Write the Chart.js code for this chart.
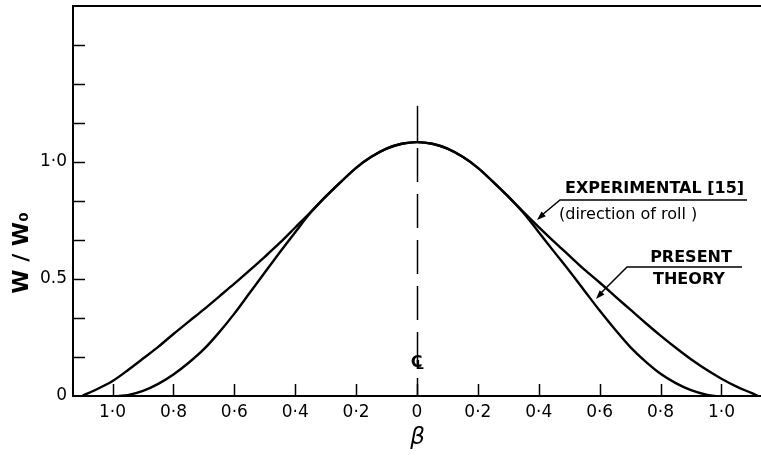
<!DOCTYPE html>
<html>
<head>
<meta charset="utf-8">
<script src="https://cdn.jsdelivr.net/npm/chart.js@4.4.1/dist/chart.umd.min.js"></script>
<style>
  html, body { margin: 0; padding: 0; background: #fff; }
  canvas { display: block; }
</style>
</head>
<body>
<canvas id="c" width="761" height="458"></canvas>
<script>
// ---- data ----
const betaExp = [-1.10, -1.05, -1.0, -0.95, -0.9, -0.85, -0.8, -0.75, -0.7, -0.65, -0.6, -0.55, -0.5, -0.45, -0.4, -0.35, -0.3, -0.25, -0.2, -0.15, -0.1, -0.05, 0,
                 0.05, 0.1, 0.15, 0.2, 0.25, 0.3, 0.35, 0.4, 0.45, 0.5, 0.55, 0.6, 0.65, 0.7, 0.75, 0.8, 0.85, 0.9, 0.95, 1.0, 1.05, 1.1, 1.12];
const wExp    = [0, 0.03, 0.064, 0.11, 0.16, 0.21, 0.265, 0.318, 0.37, 0.425, 0.48, 0.537, 0.595, 0.655, 0.72, 0.785, 0.852, 0.915, 0.975, 1.022, 1.057, 1.078, 1.085,
                 1.078, 1.057, 1.022, 0.975, 0.915, 0.852, 0.786, 0.722, 0.66, 0.60, 0.54, 0.485, 0.427, 0.37, 0.313, 0.258, 0.206, 0.157, 0.113, 0.074, 0.04, 0.012, 0];

const betaTheory = [-0.98, -0.95, -0.9, -0.85, -0.8, -0.75, -0.7, -0.65, -0.6, -0.55, -0.5, -0.45, -0.4, -0.35, -0.3, -0.25, -0.2, -0.15, -0.1, -0.05, 0,
                    0.05, 0.1, 0.15, 0.2, 0.25, 0.3, 0.35, 0.4, 0.45, 0.5, 0.55, 0.6, 0.65, 0.7, 0.75, 0.8, 0.85, 0.9, 0.95, 0.98];
const wTheory    = [0, 0.004, 0.022, 0.052, 0.092, 0.142, 0.2, 0.272, 0.352, 0.44, 0.528, 0.615, 0.70, 0.783, 0.852, 0.915, 0.975, 1.022, 1.057, 1.078, 1.085,
                    1.078, 1.057, 1.022, 0.975, 0.915, 0.852, 0.782, 0.70, 0.617, 0.535, 0.45, 0.365, 0.285, 0.21, 0.148, 0.095, 0.055, 0.025, 0.006, 0];

const xTickValues = [-1.0, -0.8, -0.6, -0.4, -0.2, 0, 0.2, 0.4, 0.6, 0.8, 1.0];
const xTickLabels = ['1·0', '0·8', '0·6', '0·4', '0·2', '0', '0·2', '0·4', '0·6', '0·8', '1·0'];
const yTickValues = [0, 1/6, 2/6, 3/6, 4/6, 5/6, 1, 7/6, 8/6, 9/6, 10/6];
const yTickLabels = ['0', '', '', '0.5', '', '', '1·0', '', '', '', ''];

const xMin = -1.13, xMax = 1.13, yMin = 0, yMax = 10/6;
const centerTop = 1.24;
const peakW = 1.085;

const toPts = (xs, ys) => xs.map((x, i) => ({ x: x, y: ys[i] }));

function arrow(ctx, x0, y0, x1, y1) {
  const ang = Math.atan2(y1 - y0, x1 - x0);
  const len = 9, w = 3.2;
  ctx.beginPath();
  ctx.moveTo(x1, y1);
  ctx.lineTo(x1 - len * Math.cos(ang) + w * Math.sin(ang), y1 - len * Math.sin(ang) - w * Math.cos(ang));
  ctx.lineTo(x1 - len * Math.cos(ang) - w * Math.sin(ang), y1 - len * Math.sin(ang) + w * Math.cos(ang));
  ctx.closePath();
  ctx.fill();
}

const overlay = {
  id: 'overlay',
  afterDraw(chart) {
    const ctx = chart.ctx;
    const xs = chart.scales.x, ys = chart.scales.y;
    const a = chart.chartArea;
    ctx.save();
    ctx.strokeStyle = '#000';
    ctx.fillStyle = '#000';
    ctx.lineCap = 'butt';

    // top frame line
    ctx.lineWidth = 2;
    ctx.beginPath();
    ctx.moveTo(a.left - 1, ys.getPixelForValue(yMax));
    ctx.lineTo(a.right, ys.getPixelForValue(yMax));
    ctx.stroke();

    // inward y ticks
    ctx.lineWidth = 1.5;
    yTickValues.forEach(v => {
      if (v === 0 || v === yMax) return;
      const py = Math.round(ys.getPixelForValue(v)) + 0.5;
      ctx.beginPath(); ctx.moveTo(a.left, py); ctx.lineTo(a.left + 12, py); ctx.stroke();
    });
    // inward x ticks
    xTickValues.forEach(v => {
      const px = Math.round(xs.getPixelForValue(v)) + 0.5;
      ctx.beginPath(); ctx.moveTo(px, a.bottom); ctx.lineTo(px, a.bottom - 12); ctx.stroke();
    });

    // centre line: solid above the peak, dashed below
    const cx = Math.round(xs.getPixelForValue(0)) + 0.5;
    const peakY = ys.getPixelForValue(peakW);
    ctx.lineWidth = 1.5;
    ctx.beginPath(); ctx.moveTo(cx, ys.getPixelForValue(centerTop)); ctx.lineTo(cx, peakY); ctx.stroke();
    ctx.setLineDash([34, 12]);
    ctx.beginPath(); ctx.moveTo(cx, peakY + 6); ctx.lineTo(cx, a.bottom); ctx.stroke();
    ctx.setLineDash([]);

    // centre-line symbol
    ctx.font = 'bold 16px "DejaVu Sans"';
    ctx.textAlign = 'center';
    ctx.textBaseline = 'middle';
    ctx.fillText('C', cx - 1, 363);
    ctx.font = 'bold 13px "DejaVu Sans"';
    ctx.textAlign = 'left';
    ctx.fillText('L', cx - 2, 366);

    // axis titles
    ctx.save();
    ctx.translate(22, 253);
    ctx.rotate(-Math.PI / 2);
    ctx.textAlign = 'center';
    ctx.textBaseline = 'middle';
    ctx.font = 'bold 22px "DejaVu Sans"';
    ctx.fillText('W / W\u2080', 0, 0);
    ctx.restore();

    ctx.textAlign = 'center';
    ctx.textBaseline = 'middle';
    ctx.font = 'oblique 23px "DejaVu Sans"';
    ctx.fillText('β', cx, 438);

    // annotation: experimental
    ctx.textAlign = 'left';
    ctx.textBaseline = 'middle';
    ctx.font = 'bold 16px "DejaVu Sans"';
    ctx.fillText('EXPERIMENTAL [15]', 565, 189);
    ctx.font = '16px "DejaVu Sans"';
    ctx.fillText('(direction of roll )', 559, 215);
    ctx.lineWidth = 1.5;
    ctx.beginPath(); ctx.moveTo(747, 200); ctx.lineTo(560, 200); ctx.lineTo(542, 215); ctx.stroke();
    arrow(ctx, 548, 210, 537, 220);

    // annotation: present theory
    ctx.font = 'bold 16px "DejaVu Sans"';
    ctx.textAlign = 'center';
    ctx.fillText('PRESENT', 691, 258);
    ctx.fillText('THEORY', 689, 280);
    ctx.beginPath(); ctx.moveTo(742, 267); ctx.lineTo(627, 267); ctx.lineTo(601, 293); ctx.stroke();
    arrow(ctx, 606, 288, 596, 299);

    ctx.restore();
  }
};

new Chart(document.getElementById('c'), {
  type: 'line',
  data: {
    datasets: [
      { label: 'EXPERIMENTAL [15] (direction of roll)', data: toPts(betaExp, wExp),
        borderColor: '#000', borderWidth: 2.4, pointRadius: 0, fill: false, cubicInterpolationMode: 'monotone' },
      { label: 'PRESENT THEORY', data: toPts(betaTheory, wTheory),
        borderColor: '#000', borderWidth: 2.4, pointRadius: 0, fill: false, cubicInterpolationMode: 'monotone' }
    ]
  },
  options: {
    responsive: false,
    animation: false,
    devicePixelRatio: 1,
    layout: { padding: { top: 6, right: 0, left: 0, bottom: 0 } },
    plugins: { legend: { display: false }, tooltip: { enabled: false } },
    scales: {
      x: {
        type: 'linear', min: xMin, max: xMax,
        grid: { display: false, drawTicks: false },
        border: { display: true, color: '#000', width: 2 },
        afterBuildTicks: s => { s.ticks = xTickValues.map(v => ({ value: v })); },
        afterFit: s => { s.height = 62; s.paddingLeft = 0; s.paddingRight = 0; },
        ticks: {
          autoSkip: false, maxRotation: 0, padding: 6, color: '#000',
          font: { family: 'DejaVu Sans', size: 17 },
          callback: (v, i) => xTickLabels[i]
        }
      },
      y: {
        type: 'linear', min: yMin, max: yMax,
        grid: { display: false, drawTicks: false },
        border: { display: true, color: '#000', width: 2 },
        afterBuildTicks: s => { s.ticks = yTickValues.map(v => ({ value: v })); },
        afterFit: s => { s.width = 73; s.paddingTop = 0; s.paddingBottom = 0; },
        ticks: {
          autoSkip: false, padding: 6, color: '#000',
          font: { family: 'DejaVu Sans', size: 17 },
          callback: (v, i) => yTickLabels[i]
        }
      }
    }
  },
  plugins: [overlay]
});
</script>
</body>
</html>
